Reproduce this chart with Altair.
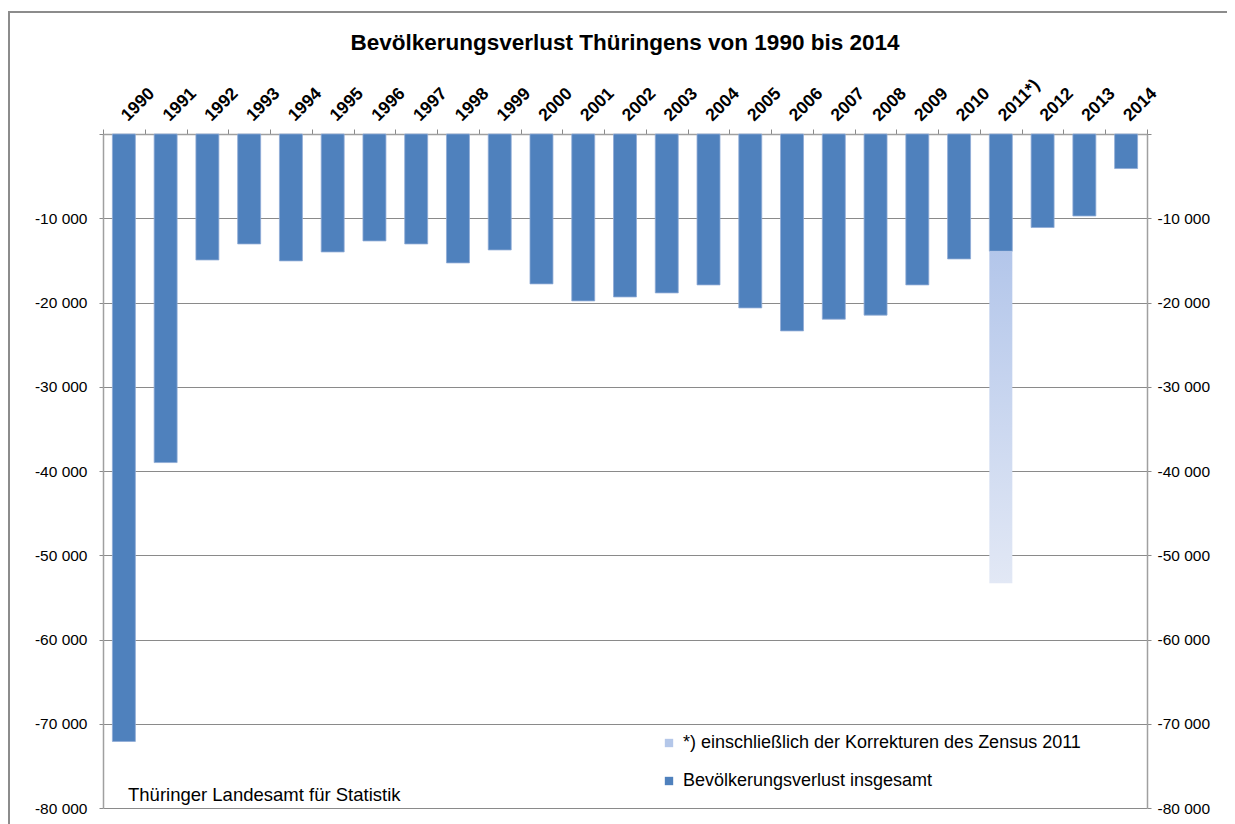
import altair as alt
import pandas as pd

years = ["1990", "1991", "1992", "1993", "1994", "1995", "1996", "1997", "1998", "1999",
         "2000", "2001", "2002", "2003", "2004", "2005", "2006", "2007", "2008", "2009",
         "2010", "2011*)", "2012", "2013", "2014"]
loss = [-72100, -39000, -14950, -13050, -15060, -14000, -12690, -13050, -15300, -13760,
        -17790, -19810, -19340, -18860, -17910, -20640, -23370, -21980, -21500, -17910,
        -14830, -13910, -11100, -9730, -4100]
zensus_year = "2011*)"
zensus_total = -53330
series_main = "Bevölkerungsverlust insgesamt"
series_zensus = "*) einschließlich der Korrekturen des Zensus 2011"
y_ticks = [0, -10000, -20000, -30000, -40000, -50000, -60000, -70000, -80000]

title_text = "Bevölkerungsverlust Thüringens von 1990 bis 2014"
source_text = "Thüringer Landesamt für Statistik"

FONT = "Liberation Sans"
BLUE = "#4F81BD"
LIGHT = "#b4c7e9"
GRID = "#8a8a8a"

W, H = 1044, 674

df = pd.DataFrame({"year": years, "value": loss, "series": series_main})
dz = pd.DataFrame({"year": [zensus_year], "top": [loss[years.index(zensus_year)]],
                   "bottom": [zensus_total]})

label_expr = "datum.value == 0 ? '' : '-' + replace(format(abs(datum.value), ','), ',', ' ')"

xscale = alt.Scale(domain=years, paddingInner=0, paddingOuter=0)
yscale = alt.Scale(domain=[-80000, 0], nice=False, zero=False)

frame = alt.Chart(alt.Data(values=[{}])).mark_rect(
    fillOpacity=0, stroke="#8c8c8c", strokeWidth=2
).encode(x=alt.value(-94), x2=alt.value(1300), y=alt.value(-122), y2=alt.value(900))

title = alt.Chart(alt.Data(values=[{"t": title_text}])).mark_text(
    font=FONT, fontSize=22.5, fontWeight="bold", color="black", align="center",
    baseline="alphabetic"
).encode(text="t:N", x=alt.value(W / 2), y=alt.value(-84))

bars = alt.Chart(df).mark_bar(width={"band": 0.55}, stroke="#8fabd6", strokeWidth=0.8).encode(
    x=alt.X("year:N", scale=xscale, sort=years,
            axis=alt.Axis(orient="top", title=None, labelAngle=-45, labelAlign="left",
                          labelBaseline="middle", labelFont=FONT, labelFontSize=17.5,
                          labelFontWeight="bold", labelColor="black", labelPadding=11,
                          tickBand="extent", tickSize=5, tickColor=GRID,
                          domainColor="#a0a0a0", domainWidth=1.5, grid=False)),
    y=alt.Y("value:Q", scale=yscale,
            axis=alt.Axis(orient="left", title=None, values=y_ticks, labelExpr=label_expr,
                          labelFont=FONT, labelFontSize=15.5, labelColor="black",
                          labelPadding=12, tickSize=4, tickColor=GRID,
                          domainColor="#a0a0a0", domainWidth=1.5,
                          grid=True, gridColor=GRID, gridWidth=1)),
    color=alt.Color("series:N",
                    scale=alt.Scale(domain=[series_zensus, series_main], range=[LIGHT, BLUE]),
                    legend=alt.Legend(title=None, orient="none", legendX=557, legendY=600,
                                      symbolType="square", symbolSize=70, symbolStrokeWidth=0,
                                      labelFont=FONT, labelFontSize=18, labelColor="black",
                                      rowPadding=20, padding=0, labelOffset=5,
                                      labelLimit=600)),
)

zensus = alt.Chart(dz).mark_bar(
    width={"band": 0.55},
    color=alt.Gradient(gradient="linear",
                       stops=[alt.GradientStop(color="#b3c6ea", offset=0),
                              alt.GradientStop(color="#e2e8f5", offset=1)],
                       x1=0, x2=0, y1=0, y2=1),
).encode(
    x=alt.X("year:N", scale=xscale, sort=years),
    y=alt.Y("top:Q", scale=yscale,
            axis=alt.Axis(orient="right", title=None, values=y_ticks, labelExpr=label_expr,
                          labelFont=FONT, labelFontSize=15.5, labelColor="black",
                          labelPadding=6, tickSize=4, tickColor=GRID,
                          domainColor="#a0a0a0", domainWidth=1.5, grid=False)),
    y2="bottom:Q",
)

source = alt.Chart(alt.Data(values=[{"t": source_text}])).mark_text(
    font=FONT, fontSize=18.5, color="black", align="left", baseline="alphabetic"
).encode(text="t:N", x=alt.value(25), y=alt.value(667))

chart = alt.layer(frame, title, bars, zensus, source).resolve_scale(y="independent").properties(
    width=W, height=H,
    autosize=alt.AutoSizeParams(type="none"),
    padding={"left": 95, "top": 126, "right": 80, "bottom": 16},
).configure_view(stroke=None)

chart.save("out.html", embed_options={"renderer": "svg", "actions": False})
